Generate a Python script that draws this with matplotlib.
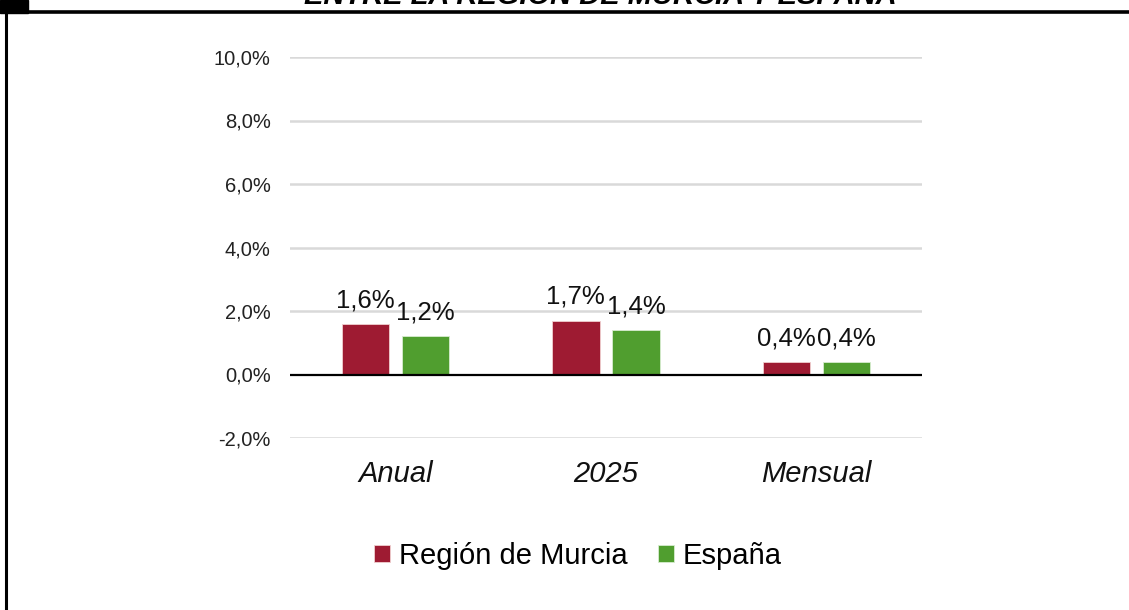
import matplotlib.pyplot as plt
import numpy as np

plt.rcParams['font.family'] = ['Liberation Sans', 'DejaVu Sans']

categorias = ["Anual", "2025", "Mensual"]
murcia = [1.6, 1.7, 0.4]
espana = [1.2, 1.4, 0.4]
series = ["Región de Murcia", "España"]
yticks = [-2, 0, 2, 4, 6, 8, 10]

c_murcia = "#9E1B32"
c_espana = "#509E2F"

fig = plt.figure(figsize=(11.29, 6.10), dpi=100)
ax = fig.add_axes([290 / 1129, 1 - 438 / 610, 632 / 1129, 381 / 610])

x = np.arange(len(categorias))
w = 0.225
off = 0.143
b1 = ax.bar(x - off, murcia, w, color=c_murcia, edgecolor="#f0d0d0", linewidth=0.6,
            label=series[0], zorder=3)
b2 = ax.bar(x + off, espana, w, color=c_espana, edgecolor="#d8ecd0", linewidth=0.6,
            label=series[1], zorder=3)

def fmt(v):
    return f"{v:.1f}".replace(".", ",") + "%"

for bars, vals in ((b1, murcia), (b2, espana)):
    for r, v in zip(bars, vals):
        ax.annotate(fmt(v), (r.get_x() + r.get_width() / 2, v), xytext=(0, 12),
                    textcoords="offset points", ha="center", va="baseline",
                    fontsize=18.5, color="#111111", zorder=5)

ax.set_xlim(-0.5, 2.5)
ax.set_ylim(-2, 10)
ax.set_yticks(yticks)
ax.set_yticklabels([fmt(t) for t in yticks], fontsize=14.5, color="#222222")
ax.set_xticks(x)
ax.set_xticklabels(categorias, fontsize=21, style="italic", color="#111111")
ax.tick_params(axis="y", length=0, pad=14)
ax.tick_params(axis="x", length=0, pad=16)
for s in ax.spines.values():
    s.set_visible(False)
for t in yticks:
    if t != 0:
        ax.axhline(t, color="#d9d9d9", linewidth=1.8, zorder=1)
ax.axhline(0, color="black", linewidth=1.6, zorder=4)

fig.legend(handles=[b1, b2], labels=series, loc="center", bbox_to_anchor=(578 / 1129, 1 - 556 / 610),
           ncol=2, frameon=False, fontsize=21, handlelength=0.55, handleheight=0.55,
           handletextpad=0.3, columnspacing=1.05)

# marco del recuadro
fig.add_artist(plt.Line2D([0, 1], [1 - 11.5 / 610] * 2, color="black", linewidth=2.6,
                          transform=fig.transFigure))
fig.add_artist(plt.Line2D([6 / 1129] * 2, [0, 1 - 11 / 610], color="black", linewidth=2.2,
                          transform=fig.transFigure))
fig.add_artist(plt.Rectangle((0, 1 - 13 / 610), 28 / 1129, 13 / 610, color="black",
                             transform=fig.transFigure))
fig.text(600 / 1129, 1 - 4 / 610, "ENTRE LA REGIÓN DE MURCIA Y ESPAÑA", ha="center",
         va="baseline", fontsize=21, weight="bold", style="italic", color="black")

fig.savefig("out.png", dpi=100)
